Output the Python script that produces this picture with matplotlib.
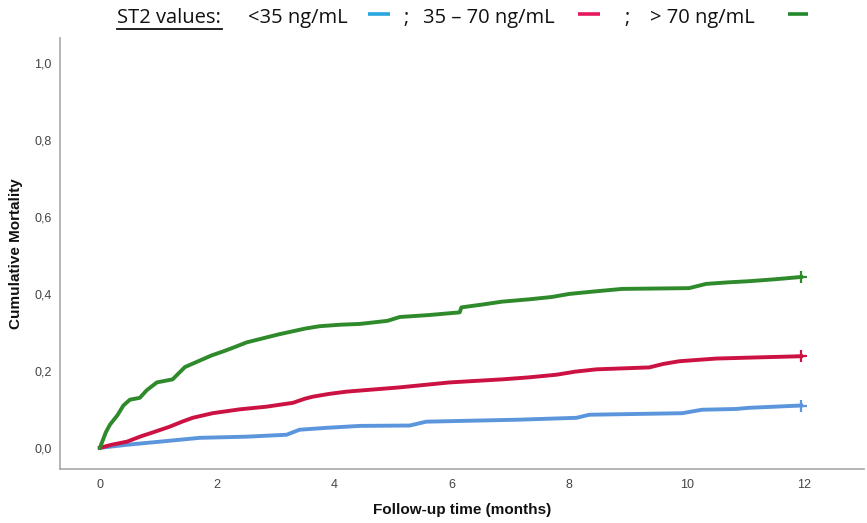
import matplotlib

matplotlib.use("Agg")
import matplotlib.pyplot as plt
from matplotlib.lines import Line2D

W, H = 867, 523

# Kaplan-Meier style cumulative mortality
green_t = [0, 0.05, 0.1, 0.17, 0.3, 0.4, 0.51, 0.68, 0.8, 0.97, 1.24, 1.35, 1.45, 1.6,
           1.75, 1.9, 2.09, 2.3, 2.5, 2.84, 3.05, 3.29, 3.5, 3.74, 4.1, 4.43, 4.9, 5.11,
           5.6, 6.13, 6.16, 6.5, 6.86, 7.32, 7.7, 8.0, 8.4, 8.9, 10.04, 10.33, 10.7,
           11.06, 11.5, 11.95]
green_y = [0, 0.02, 0.04, 0.06, 0.085, 0.11, 0.125, 0.13, 0.15, 0.17, 0.178, 0.195, 0.21,
           0.22, 0.23, 0.24, 0.25, 0.262, 0.274, 0.287, 0.295, 0.303, 0.31, 0.316, 0.32,
           0.322, 0.33, 0.34, 0.345, 0.352, 0.365, 0.372, 0.38, 0.386, 0.392, 0.40, 0.406,
           0.413, 0.415, 0.426, 0.43, 0.433, 0.438, 0.444]

red_t = [0, 0.2, 0.46, 0.7, 0.9, 1.19, 1.4, 1.58, 1.92, 2.38, 2.84, 3.29, 3.5, 3.63, 3.9,
         4.2, 5.1, 5.96, 6.86, 7.3, 7.78, 8.1, 8.46, 9.36, 9.6, 9.87, 10.5, 11.2, 11.95]
red_y = [0, 0.008, 0.016, 0.03, 0.04, 0.055, 0.068, 0.078, 0.09, 0.1, 0.107, 0.117, 0.128,
         0.133, 0.14, 0.146, 0.157, 0.17, 0.178, 0.183, 0.19, 0.198, 0.204, 0.209, 0.218,
         0.225, 0.232, 0.235, 0.238]

blue_t = [0, 0.46, 1.02, 1.7, 2.5, 3.18, 3.4, 3.86, 4.43, 5.28, 5.56, 7.1, 8.12, 8.34,
          9.92, 10.26, 10.84, 11.06, 11.95]
blue_y = [0, 0.008, 0.016, 0.026, 0.029, 0.034, 0.047, 0.052, 0.057, 0.058, 0.068, 0.073,
          0.078, 0.086, 0.09, 0.099, 0.101, 0.104, 0.11]

x_ticks = [0, 2, 4, 6, 8, 10, 12]
y_ticks = [0.0, 0.2, 0.4, 0.6, 0.8, 1.0]
y_tick_labels = ["0,0", "0,2", "0,4", "0,6", "0,8", "1,0"]

series = [
    (blue_t, blue_y, "#5b96dc"),
    (red_t, red_y, "#cc1242"),
    (green_t, green_y, "#2f8a2c"),
]

fig = plt.figure(figsize=(W / 100, H / 100), dpi=100)
ax = fig.add_axes([60 / W, 1 - 469 / H, (864 - 60) / W, (469 - 38) / H])

for t, y, color in series:
    ax.plot(t, y, color=color, lw=2.8, solid_joinstyle="round")
    ax.plot(t[-1], y[-1], marker="+", ms=9, mew=1.6, color=color)

ax.set_xlim(-0.68, 13.02)
ax.set_ylim(-0.055, 1.065)
ax.set_xticks(x_ticks)
ax.set_yticks(y_ticks)
ax.set_yticklabels(y_tick_labels)

tick_font = ["Liberation Sans Narrow", "Liberation Sans", "DejaVu Sans"]
ax.tick_params(length=0, labelsize=9, colors="#444444")
ax.tick_params(axis="x", pad=7)
ax.tick_params(axis="y", pad=6)
for lab in ax.get_xticklabels() + ax.get_yticklabels():
    lab.set_family(tick_font)

for side in ["top", "right"]:
    ax.spines[side].set_visible(False)
for side in ["left", "bottom"]:
    ax.spines[side].set_color("#a8a8a8")
    ax.spines[side].set_linewidth(1.2)

label_font = ["Liberation Sans", "DejaVu Sans"]
ax.set_xlabel("Follow-up time (months)", family=label_font, fontweight="bold",
              fontsize=11, labelpad=9, color="#111111")
ax.set_ylabel("Cumulative Mortality", family=label_font, fontweight="bold",
              fontsize=11, labelpad=8, color="#111111")

# title built from pieces with coloured dashes
title_font = ["Open Sans", "DejaVu Sans"]
base_y = 1 - 23 / H
dash_y = 1 - 13.5 / H
pieces = [
    (117, "ST2 values:"),
    (248, "<35 ng/mL"),
    (403, ";"),
    (423, "35 \u2013 70 ng/mL"),
    (624, ";"),
    (650, "> 70 ng/mL"),
]
for x, txt in pieces:
    fig.text(x / W, base_y, txt, family=title_font, fontsize=14.5, va="baseline",
             ha="left", color="#111111")
fig.add_artist(Line2D([117 / W, 222 / W], [1 - 29.5 / H] * 2, color="#111111", lw=1.3))

dashes = [(368, 390, "#2aa6df"), (578, 600, "#e6175c"), (788, 808, "#21892b")]
for x0, x1, color in dashes:
    fig.add_artist(Line2D([x0 / W, x1 / W], [dash_y, dash_y], color=color, lw=2.6,
                          solid_capstyle="butt"))

fig.savefig("out.png", dpi=100, facecolor="white")
